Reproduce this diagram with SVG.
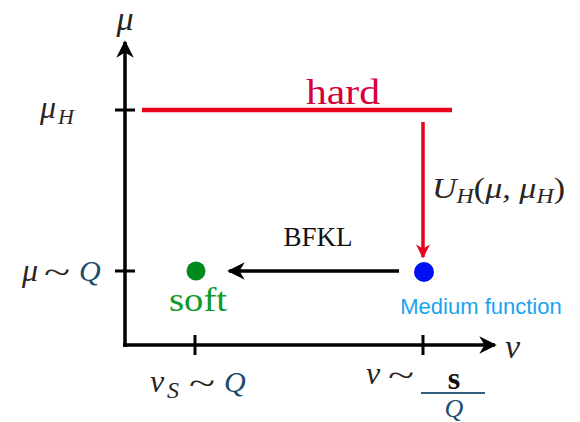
<svg xmlns="http://www.w3.org/2000/svg" width="580" height="422" viewBox="0 0 580 422">
<defs>
<marker id="ah" viewBox="0 0 10 10" refX="9" refY="5" markerWidth="5" markerHeight="5" orient="auto" markerUnits="strokeWidth"><path d="M0,0 L10,5 L0,10 L3,5 Z" fill="#000"/></marker>
<marker id="ahr" viewBox="0 0 10 10" refX="9" refY="5" markerWidth="4" markerHeight="4" orient="auto" markerUnits="strokeWidth"><path d="M0,0 L10,5 L0,10 L3,5 Z" fill="#e8001c"/></marker>
</defs>
<style>
.m{font-family:"Liberation Serif","DejaVu Serif",serif;font-style:italic;fill:#2a2520}
.t{font-family:"Liberation Serif","DejaVu Serif",serif;fill:#2a2520}
.q{fill:#1d4b6e}
.ax{stroke:#000;stroke-width:3.5;fill:none}
.tk{stroke:#000;stroke-width:3}
</style>
<rect width="580" height="422" fill="#fff"/>
<g id="axes">
<line class="ax" x1="125" y1="347" x2="125" y2="42" marker-end="url(#ah)"/>
<line class="ax" x1="123" y1="345" x2="495" y2="345" marker-end="url(#ah)"/>
<line class="tk" x1="115" y1="110" x2="135" y2="110"/>
<line class="tk" x1="115" y1="271" x2="135" y2="271"/>
<line class="tk" x1="195" y1="335" x2="195" y2="355"/>
<line class="tk" x1="423" y1="335" x2="423" y2="355"/>
</g>
<g id="axis-labels">
<text class="m" x="125" y="30" font-size="34" text-anchor="middle">μ</text>
<text class="m" x="40" y="118" font-size="32">μ</text>
<text class="m" x="58" y="124" font-size="22">H</text>
<text class="m" x="22" y="281" font-size="32">μ</text>
<text class="t" x="44" y="283" font-size="32" textLength="26" lengthAdjust="spacingAndGlyphs">~</text>
<text class="m q" x="79" y="281" font-size="30">Q</text>
<text class="m" x="505" y="358" font-size="34">ν</text>
<text class="m" x="150" y="392" font-size="32">ν</text>
<text class="m" x="167" y="398" font-size="24">S</text>
<text class="t" x="189" y="394" font-size="32" textLength="26" lengthAdjust="spacingAndGlyphs">~</text>
<text class="m q" x="224" y="392" font-size="30">Q</text>
<text class="m" x="366" y="384" font-size="32">ν</text>
<text class="t" x="388" y="386" font-size="32" textLength="26" lengthAdjust="spacingAndGlyphs">~</text>
<text x="454" y="389" font-size="32" font-family="Liberation Serif,serif" font-weight="bold" text-anchor="middle" fill="#111">s</text>
<line x1="421" y1="393" x2="485" y2="393" stroke="#2f5f7a" stroke-width="2"/>
<text class="m q" x="454" y="417" font-size="26" text-anchor="middle">Q</text>
</g>
<g id="hard">
<line x1="142" y1="110" x2="452" y2="110" stroke="#e8001c" stroke-width="4.5"/>
<text x="343" y="104" font-size="36" font-family="Liberation Serif,serif" text-anchor="middle" fill="#d8003a" textLength="74" lengthAdjust="spacingAndGlyphs">hard</text>
</g>
<g id="soft">
<circle cx="196" cy="271" r="9.5" fill="#008a1e"/>
<text x="198" y="311" font-size="34" font-family="Liberation Serif,serif" text-anchor="middle" fill="#0d9a2a" textLength="58" lengthAdjust="spacingAndGlyphs">soft</text>
</g>
<g id="medium">
<circle cx="424" cy="272" r="10" fill="#0010f0"/>
<text x="481" y="314" font-size="22" font-family="Liberation Sans,Arial,sans-serif" text-anchor="middle" fill="#1aa3ef">Medium function</text>
</g>
<g id="connectors">
<line x1="423" y1="122" x2="423" y2="257" stroke="#e8001c" stroke-width="3.5" marker-end="url(#ahr)"/>
<line x1="399" y1="271" x2="229" y2="271" stroke="#000" stroke-width="3.5" marker-end="url(#ah)"/>
<text x="318" y="246" font-size="27" font-family="Liberation Serif,serif" text-anchor="middle" fill="#111">BFKL</text>
<text class="m" x="432" y="198" font-size="30" textLength="133" lengthAdjust="spacingAndGlyphs">U<tspan font-size="21" dy="5">H</tspan><tspan dy="-5" font-style="normal">(</tspan>μ, μ<tspan font-size="21" dy="5">H</tspan><tspan dy="-5" font-style="normal">)</tspan></text>
</g>
</svg>
